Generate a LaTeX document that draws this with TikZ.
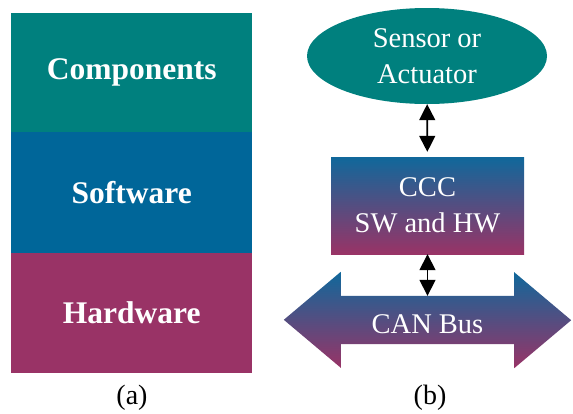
\documentclass[tikz,border=0pt]{standalone}
\usepackage{fontspec}
\setmainfont{Liberation Serif}
\usetikzlibrary{shapes.geometric,arrows.meta}

\definecolor{tealc}{RGB}{0,128,126}
\definecolor{bluec}{RGB}{0,102,153}
\definecolor{magc}{RGB}{153,51,102}
\definecolor{gradtop}{RGB}{16,104,155}

\tikzset{
  layer/.style={rectangle, inner sep=0pt, minimum width=241pt, minimum height=120pt,
    text=white, font=\fontsize{31.5}{36}\selectfont\bfseries},
  plain/.style={text=white, align=center, font=\fontsize{28.5}{35.5}\selectfont},
  caption/.style={font=\fontsize{28}{32}\selectfont},
  link/.style={line width=1.6pt,
    {Triangle[width=16pt,length=16pt]}-{Triangle[width=16pt,length=16pt]}},
  fade/.style={top color=gradtop, bottom color=magc},
}

\begin{document}
\begin{tikzpicture}[x=1pt,y=-1pt]
\useasboundingbox (0,0) rectangle (573,413);

% (a) layered stack
\node[layer, fill=tealc, minimum height=119pt, anchor=north west] (comp) at (11,13) {Components};
\node[layer, fill=bluec, minimum height=121pt, anchor=north west] (sw) at (11,132) {Software};
\node[layer, fill=magc, anchor=north west] (hw) at (11,253) {Hardware};
\node[caption] (capa) at (132,398) {(a)};

% (b) sensor, controller and bus
\node[ellipse, fill=tealc, inner sep=0pt, minimum width=240pt, minimum height=96pt,
      plain] (sensor) at (427,56) {Sensor or\\Actuator};
\node[rectangle, fade, inner sep=0pt, minimum width=193pt, minimum height=97pt,
      plain] (ccc) at (427.5,205.5) {CCC\\SW and HW};

% CAN bus double arrow: the node is the shaft, the outline adds the heads
\node[rectangle, inner sep=0pt, minimum width=173pt, minimum height=48pt] (bus) at (427.5,320) {};
\shade[fade] (bus.north west) -- ++(0,-24) -- ++(-57,48) -- ++(57,48) -- (bus.south west)
  -- (bus.south east) -- ++(0,24) -- ++(57,-48) -- ++(-57,-48) -- (bus.north east) -- cycle;
\node[plain] (buslabel) at ([yshift=-4pt]bus.center) {CAN Bus};

\draw[link, shorten >=5pt] (sensor) -- (ccc);
\draw[link] (ccc) -- (bus);

\node[caption] (capb) at (430,398) {(b)};
\end{tikzpicture}
\end{document}
